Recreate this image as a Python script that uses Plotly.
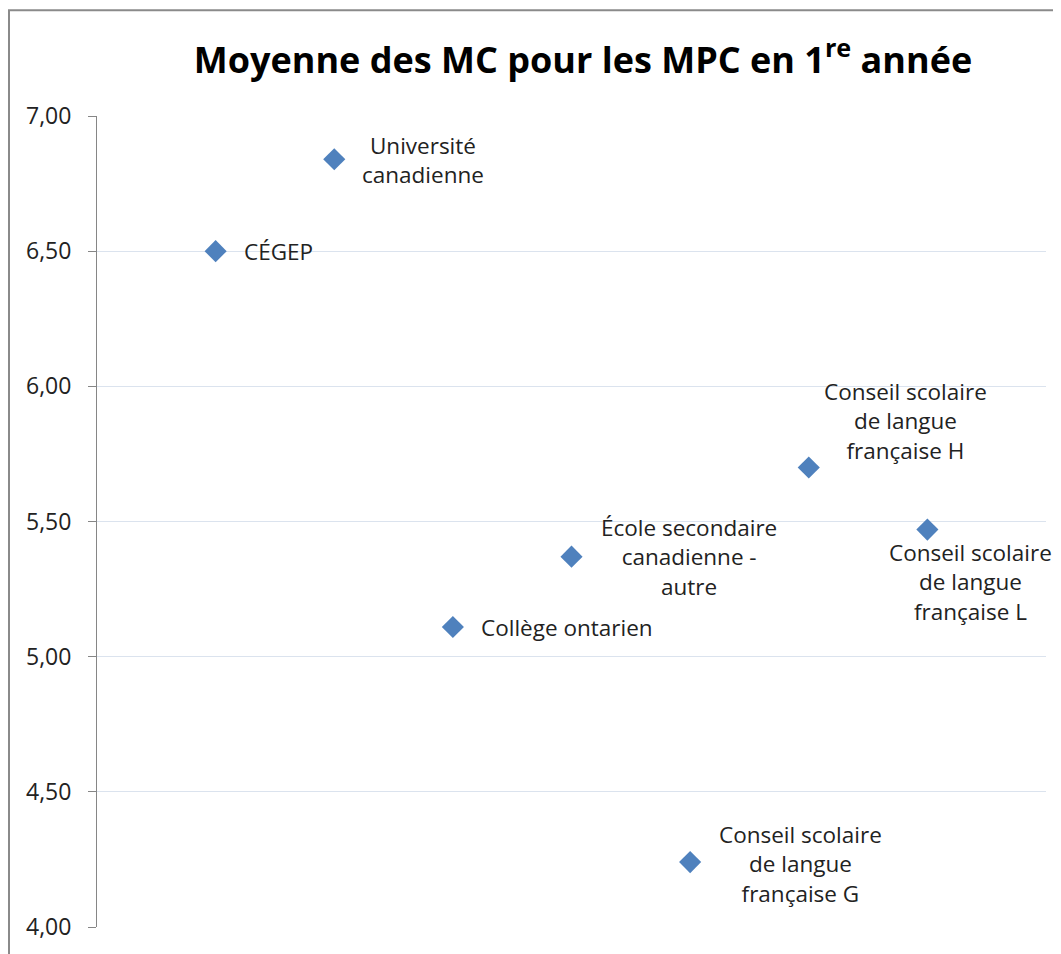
import plotly.graph_objects as go

# Data
categories = ["CÉGEP", "Université canadienne", "Collège ontarien",
              "École secondaire canadienne - autre",
              "Conseil scolaire de langue française G",
              "Conseil scolaire de langue française H",
              "Conseil scolaire de langue française L"]
x_pos = [1, 2, 3, 4, 5, 6, 7]
moyennes = [6.50, 6.84, 5.11, 5.37, 4.24, 5.70, 5.47]
label_text = ["CÉGEP", "Université<br>canadienne", "Collège ontarien",
              "École secondaire<br>canadienne -<br>autre",
              "Conseil scolaire<br>de langue<br>française G",
              "Conseil scolaire<br>de langue<br>française H",
              "Conseil scolaire<br>de langue<br>française L"]
y_ticks = [4.0, 4.5, 5.0, 5.5, 6.0, 6.5, 7.0]
y_tick_labels = ["4,00", "4,50", "5,00", "5,50", "6,00", "6,50", "7,00"]

# label placement (pixel offsets, anchor)
label_style = [
    dict(xanchor="left", xshift=26, yshift=0),
    dict(xanchor="center", xshift=89, yshift=-1),
    dict(xanchor="left", xshift=26, yshift=-1),
    dict(xanchor="center", xshift=117, yshift=0),
    dict(xanchor="center", xshift=110, yshift=-2),
    dict(xanchor="center", xshift=97, yshift=46),
    dict(xanchor="center", xshift=43, yshift=-52),
]

FONT = "Open Sans"
TXT = "#222222"
W, H = 1053, 946

fig = go.Figure()
fig.add_trace(go.Scatter(
    x=x_pos, y=moyennes, mode="markers",
    marker=dict(symbol="diamond", size=17, color="#4F81BD", line=dict(width=0)),
    hoverinfo="text", text=categories, showlegend=False,
))

for xv, yv, t, st in zip(x_pos, moyennes, label_text, label_style):
    fig.add_annotation(x=xv, y=yv, xref="x", yref="y", text=t, showarrow=False,
                       align="center" if st["xanchor"] == "center" else "left",
                       yanchor="middle", font=dict(family=FONT, size=22.5, color=TXT),
                       **st)

fig.update_layout(
    width=W, height=H,
    margin=dict(l=89, r=15, t=108, b=25),
    paper_bgcolor="white", plot_bgcolor="white",
    title=dict(text="<b>Moyenne des MC pour les MPC en 1<sup>re</sup> année</b>",
               x=575 / W, xanchor="center", y=1 - 52 / H, yanchor="middle",
               font=dict(family=FONT, size=36, color="#000000")),
    xaxis=dict(range=[0, 8], showgrid=False, zeroline=False, showline=False,
               showticklabels=False, ticks=""),
    yaxis=dict(range=[4, 7], tickvals=y_ticks, ticktext=y_tick_labels,
               showgrid=True, gridcolor="#dbe3ee", gridwidth=1, zeroline=False,
               showline=True, linecolor="#868686", linewidth=1,
               ticks="outside", ticklen=8, tickcolor="#868686",
               ticklabelstandoff=12,
               tickfont=dict(family=FONT, size=23, color=TXT)),
    shapes=[dict(type="rect", xref="paper", yref="paper",
                 x0=(1 - 89) / 949, x1=1.3, y0=-0.2, y1=(921 - 2) / 813,
                 line=dict(color="#8a8a8a", width=2), fillcolor="rgba(0,0,0,0)",
                 layer="below")],
)

fig.write_html("out.html")
